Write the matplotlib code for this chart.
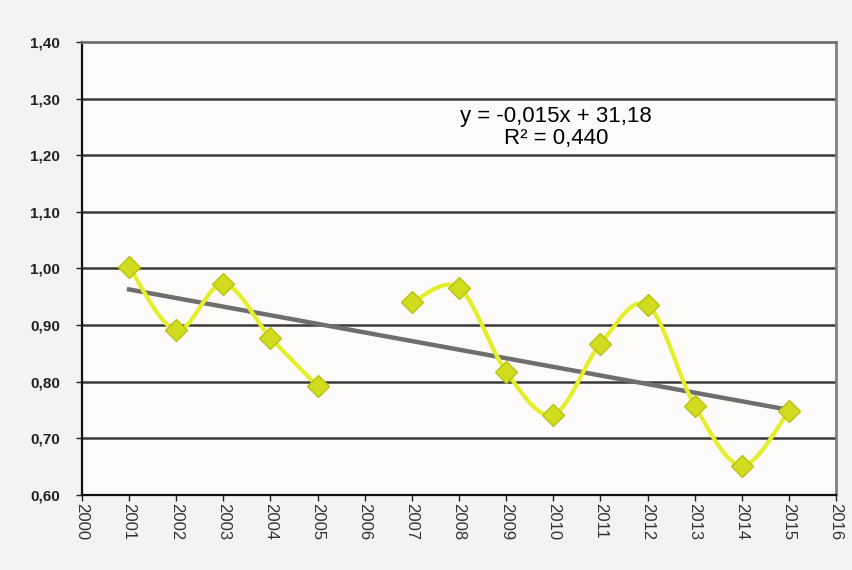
import numpy as np
import matplotlib.pyplot as plt

# values (2006 missing)
years_a = [2001, 2002, 2003, 2004, 2005]
vals_a = [1.003, 0.891, 0.973, 0.878, 0.792]
years_b = [2007, 2008, 2009, 2010, 2011, 2012, 2013, 2014, 2015]
vals_b = [0.940, 0.966, 0.818, 0.742, 0.867, 0.935, 0.758, 0.652, 0.748]

eq_text = "y = -0,015x + 31,18\nR\u00b2 = 0,440"
x_ticks = list(range(2000, 2017))
y_ticks = [0.6, 0.7, 0.8, 0.9, 1.0, 1.1, 1.2, 1.3, 1.4]


def smooth(x, y, n=30):
    # catmull-rom style smoothing, like excel's smoothed line
    x = np.asarray(x, float)
    y = np.asarray(y, float)
    px = np.concatenate([[x[0]], x, [x[-1]]])
    py = np.concatenate([[y[0]], y, [y[-1]]])
    xs, ys = [], []
    t = np.linspace(0, 1, n)
    for i in range(1, len(px) - 2):
        p0, p1, p2, p3 = [np.array([px[j], py[j]]) for j in range(i - 1, i + 3)]
        c1 = p1 + (p2 - p0) / 6
        c2 = p2 - (p3 - p1) / 6
        b = ((1 - t) ** 3)[:, None] * p1 + (3 * (1 - t) ** 2 * t)[:, None] * c1 \
            + (3 * (1 - t) * t ** 2)[:, None] * c2 + (t ** 3)[:, None] * p2
        xs.append(b[:, 0])
        ys.append(b[:, 1])
    return np.concatenate(xs), np.concatenate(ys)


plt.rcParams['font.family'] = ['Liberation Sans', 'DejaVu Sans']

fig = plt.figure(figsize=(8.53, 5.70), dpi=100, facecolor='#f3f3f3')
ax = fig.add_axes([0.0961, 0.1316, 0.884, 0.7947])
ax.set_facecolor('#fcfbf9')

for y in y_ticks[1:-1]:
    ax.axhline(y, color='#3a3a3a', lw=1.8, zorder=1)

# trend line over all points
all_x = np.array(years_a + years_b, float)
all_y = np.array(vals_a + vals_b)
k, b = np.polyfit(all_x, all_y, 1)
ax.plot([2001, 2015], [k * 2001 + b, k * 2015 + b], color='#6e6e6e', lw=3.2, zorder=2)

for xx, yy in [(years_a, vals_a), (years_b, vals_b)]:
    sx, sy = smooth(xx, yy)
    ax.plot(sx, sy, color='#e4ef2a', lw=3, zorder=3, solid_capstyle='round')
    ax.plot(xx, yy, linestyle='none', marker='D', ms=11, mfc='#d2dc1e',
            mec='#b8c214', mew=1, zorder=4)

ax.text(2010.06, 1.249, eq_text, ha='center', va='center', fontsize=16,
        linespacing=1.05, zorder=5)

ax.set_xlim(2000, 2016)
ax.set_ylim(0.6, 1.4)
ax.set_xticks(x_ticks)
ax.set_xticklabels([str(x) for x in x_ticks], rotation=-90, fontsize=12,
                   color='#333333')
ax.set_yticks(y_ticks)
ax.set_yticklabels([f"{v:.2f}".replace('.', ',') for v in y_ticks],
                   fontsize=11, fontweight='bold', color='#222222')
ax.tick_params(direction='out', length=4, width=1, color='#222222')
ax.tick_params(axis='x', pad=2)
ax.tick_params(axis='y', pad=12)

ax.spines['left'].set_color('#111111')
ax.spines['bottom'].set_color('#111111')
ax.spines['left'].set_linewidth(1.6)
ax.spines['bottom'].set_linewidth(1.6)
ax.spines['top'].set_color('#707070')
ax.spines['right'].set_color('#808080')
ax.spines['top'].set_linewidth(2)
ax.spines['right'].set_linewidth(2)

fig.savefig('out.png', dpi=100, facecolor=fig.get_facecolor())
